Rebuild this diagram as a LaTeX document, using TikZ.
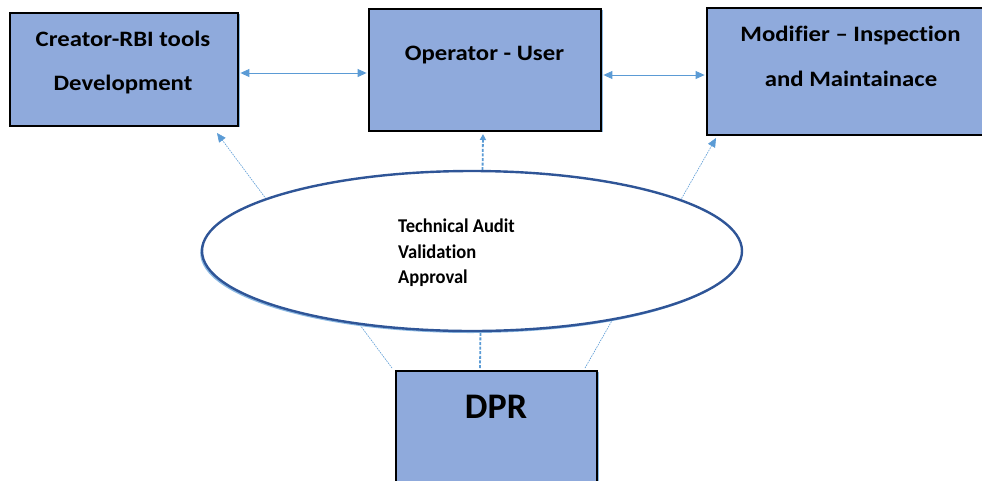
\documentclass[tikz,border=0pt]{standalone}
\usepackage{fontspec}
\setmainfont{Carlito}
\newfontfamily\boxfont[FakeStretch=1.125,Ligatures=NoCommon]{Carlito}
\newfontfamily\ringfont[FakeStretch=0.95,Ligatures=NoCommon]{Carlito}
\usetikzlibrary{arrows.meta,shapes.geometric,shadows,calc}
\definecolor{boxfill}{HTML}{8FAADC}
\definecolor{linkblue}{HTML}{5B9BD5}
\definecolor{ringblue}{HTML}{2F5597}
\begin{document}
\begin{tikzpicture}[x=1pt,y=-1pt,
  stagebox/.style={draw=black,line width=2.4pt,fill=boxfill,inner sep=0pt,
    drop shadow={shadow xshift=1.6pt,shadow yshift=-1.2pt,fill=linkblue!70,opacity=1}},
  boxtext/.style={font=\boxfont\bfseries\fontsize{22}{26}\selectfont,inner sep=0pt,anchor=base},
  ringtext/.style={font=\ringfont\bfseries\fontsize{19.5}{23}\selectfont,inner sep=0pt,anchor=base west},
  link/.style={draw=linkblue,line width=0.9pt,
    {Triangle[length=9pt,width=8pt]}-{Triangle[length=9pt,width=8pt]}},
  feed/.style={draw=linkblue,line width=0.6pt,dash pattern=on 1.6pt off 1pt,
    -{Triangle[length=9pt,width=8pt]}},
  feedmain/.style={draw=linkblue,line width=1.8pt,dash pattern=on 3pt off 1.6pt,
    -{Triangle[length=6pt,width=6pt]}},
]
\useasboundingbox (0,0) rectangle (982,480);

% the four stakeholder boxes
\node[stagebox,minimum width=228pt,minimum height=113pt] (creator) at (124,69.5) {};
\node[stagebox,minimum width=232pt,minimum height=122pt] (operator) at (485,70) {};
\node[stagebox,minimum width=293pt,minimum height=127pt] (modifier) at (853.5,71.5) {};
\node[stagebox,minimum width=201pt,minimum height=129pt] (dpr) at (496.5,435.5) {};

% box captions
\node[boxtext] (creatorA) at (123,46) {Creator-RBI tools};
\node[boxtext] (creatorB) at (123,90) {Development};
\node[boxtext] (operatorA) at (484.5,60) {Operator - User};
\node[boxtext] (modifierA) at (850.5,41) {Modifier – Inspection};
\node[boxtext] (modifierB) at (851,86) {and Maintainace};
\node[font=\bfseries\fontsize{36}{40}\selectfont,inner sep=0pt,anchor=base] (dprA) at (496,418) {DPR};

% two-way links between the top boxes
\draw[link] ($(creator.east)+(1.2,3.5)$) -- ($(operator.west)+(-1.2,3)$);
\draw[link] ($(operator.east)+(1.2,5)$) -- ($(modifier.west)+(-1.2,3.5)$);

% feedback paths from DPR through the review to each box
\coordinate (fromL) at (392,368);
\coordinate (fromC) at (480,368);
\coordinate (fromR) at (585,368);
\coordinate (toL) at (217,133);
\coordinate (toC) at (483,134);
\coordinate (toR) at (716,138);
\draw[feed] (fromL) -- (toL);
\draw[feedmain] (fromC) -- (toC);
\draw[feed] (fromR) -- (toR);

% review ellipse on top of the paths
\node[ellipse,draw=ringblue,line width=2.4pt,fill=white,inner sep=0pt,
  minimum width=540pt,minimum height=160pt,
  drop shadow={shadow xshift=-1.8pt,shadow yshift=-2pt,fill=linkblue!70,opacity=1}]
  (review) at (472,251) {};
\node[ringtext] (reviewA) at (398,232) {Technical Audit};
\node[ringtext] (reviewB) at (398,258) {Validation};
\node[ringtext] (reviewC) at (398,283) {Approval};
\end{tikzpicture}
\end{document}
